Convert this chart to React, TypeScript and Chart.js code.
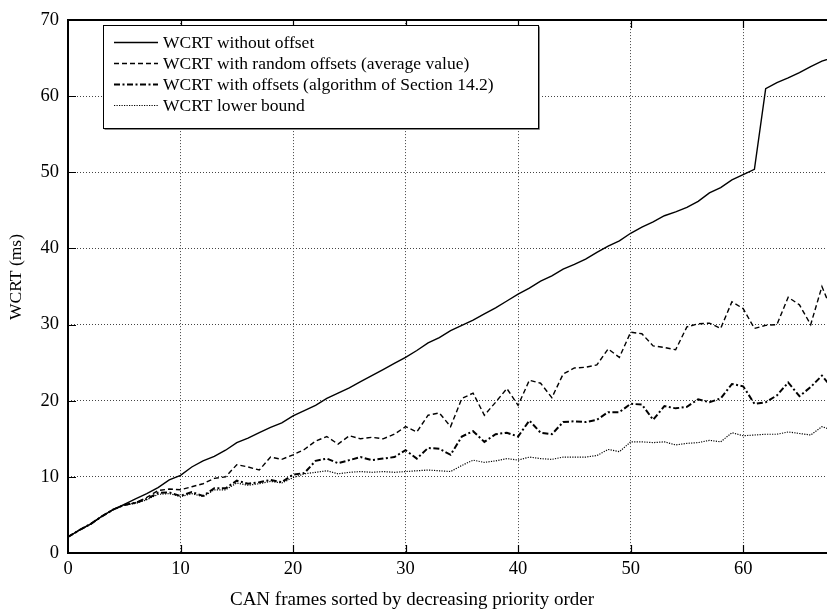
import React, { useEffect, useRef } from 'react';
import { Chart, registerables } from 'chart.js';

Chart.register(...registerables);

const frames = Array.from({ length: 69 }, (_, i) => i);

const withoutOffset = [
  2.1, 3.0, 3.8, 4.8, 5.7, 6.4, 7.1, 7.8, 8.6, 9.6,
  10.2, 11.3, 12.1, 12.7, 13.5, 14.5, 15.1, 15.8, 16.5, 17.1,
  18.0, 18.7, 19.4, 20.3, 21.0, 21.7, 22.5, 23.3, 24.1, 24.9,
  25.7, 26.6, 27.6, 28.3, 29.2, 29.9, 30.6, 31.4, 32.2, 33.1,
  34.0, 34.8, 35.7, 36.4, 37.3, 37.9, 38.6, 39.5, 40.3, 41.0,
  42.0, 42.8, 43.5, 44.3, 44.8, 45.4, 46.2, 47.3, 48.0, 49.0,
  49.7, 50.4, 61.0, 61.8, 62.4, 63.1, 63.9, 64.6, 65.1,
];

const randomOffsets = [
  2.1, 3.0, 3.8, 4.8, 5.7, 6.3, 6.6, 7.3, 8.2, 8.4,
  8.3, 8.7, 9.1, 9.8, 10.0, 11.6, 11.3, 10.9, 12.6, 12.3,
  12.9, 13.6, 14.7, 15.3, 14.3, 15.4, 15.0, 15.2, 15.0, 15.6,
  16.6, 15.9, 18.1, 18.4, 16.6, 20.3, 21.0, 18.1, 19.8, 21.6,
  19.4, 22.7, 22.3, 20.4, 23.5, 24.3, 24.4, 24.7, 26.8, 25.7,
  29.0, 28.8, 27.2, 27.0, 26.7, 29.7, 30.1, 30.2, 29.5, 33.0,
  32.1, 29.5, 29.9, 30.0, 33.6, 32.6, 30.0, 35.0, 31.4,
];

const algorithmOffsets = [
  2.1, 3.0, 3.8, 4.8, 5.7, 6.3, 6.6, 7.1, 7.9, 7.95,
  7.5, 8.0, 7.5, 8.5, 8.5, 9.5, 9.1, 9.3, 9.6, 9.3,
  10.3, 10.5, 12.1, 12.4, 11.8, 12.2, 12.6, 12.2, 12.4, 12.6,
  13.5, 12.4, 13.8, 13.7, 12.9, 15.3, 16.0, 14.6, 15.6, 15.8,
  15.3, 17.4, 15.8, 15.6, 17.2, 17.3, 17.2, 17.5, 18.5, 18.5,
  19.6, 19.5, 17.5, 19.3, 19.0, 19.2, 20.2, 19.8, 20.3, 22.2,
  21.9, 19.6, 19.8, 20.7, 22.4, 20.6, 21.8, 23.3, 21.5,
];

const lowerBound = [
  2.1, 3.0, 3.8, 4.8, 5.7, 6.3, 6.5, 7.0, 7.7, 7.8,
  7.4, 7.8, 7.4, 8.3, 8.3, 9.2, 8.9, 9.1, 9.4, 9.2,
  9.9, 10.4, 10.6, 10.8, 10.4, 10.6, 10.7, 10.6, 10.7, 10.6,
  10.7, 10.8, 10.9, 10.8, 10.7, 11.5, 12.2, 11.9, 12.1, 12.4,
  12.2, 12.6, 12.4, 12.3, 12.6, 12.6, 12.6, 12.8, 13.6, 13.3,
  14.6, 14.6, 14.5, 14.6, 14.2, 14.4, 14.5, 14.8, 14.6, 15.8,
  15.4, 15.5, 15.6, 15.6, 15.9, 15.7, 15.5, 16.6, 16.1,
];

const seriesLabels = [
  'WCRT without offset',
  'WCRT with random offsets (average value)',
  'WCRT with offsets (algorithm of Section 14.2)',
  'WCRT lower bound',
];

const xTickValues = [0, 10, 20, 30, 40, 50, 60];
const yTickValues = [0, 10, 20, 30, 40, 50, 60, 70];
const xAxisTitle = 'CAN frames sorted by decreasing priority order';
const yAxisTitle = 'WCRT (ms)';

const FONT = '"Liberation Serif", "DejaVu Serif", serif';

const styles = [
  { dash: [] as number[], width: 1.4 },
  { dash: [5, 3], width: 1.4 },
  { dash: [6, 2.5, 2, 2.5], width: 2 },
  { dash: [1.2, 1.3], width: 1.2 },
];

const toPoints = (vals: number[]) => frames.map((f, i) => ({ x: f, y: vals[i] }));

const decorPlugin = {
  id: 'decor',
  afterDraw(chart: any) {
    const { ctx, chartArea: a, scales } = chart;
    const xs = scales.x;
    const ys = scales.y;
    ctx.save();
    // inward ticks
    ctx.strokeStyle = '#000';
    ctx.lineWidth = 1.2;
    ctx.setLineDash([]);
    ctx.beginPath();
    xTickValues.forEach((v) => {
      if (v === 0) return;
      const px = Math.round(xs.getPixelForValue(v)) + 0.5;
      ctx.moveTo(px, a.bottom);
      ctx.lineTo(px, a.bottom - 8);
      ctx.moveTo(px, a.top);
      ctx.lineTo(px, a.top + 8);
    });
    yTickValues.forEach((v) => {
      if (v === 0 || v === 70) return;
      const py = Math.round(ys.getPixelForValue(v)) + 0.5;
      ctx.moveTo(a.left, py);
      ctx.lineTo(a.left + 8, py);
    });
    ctx.stroke();
    // frame
    ctx.lineWidth = 2;
    ctx.beginPath();
    ctx.moveTo(a.right, a.top);
    ctx.lineTo(a.left, a.top);
    ctx.lineTo(a.left, a.bottom);
    ctx.lineTo(a.right, a.bottom);
    ctx.stroke();

    // legend
    const bx = 103, by = 25, bw = 435, bh = 103;
    ctx.fillStyle = '#fff';
    ctx.fillRect(bx, by, bw, bh);
    ctx.strokeStyle = '#888';
    ctx.lineWidth = 1;
    ctx.beginPath();
    ctx.moveTo(bx + 1.5, by + bh + 1.5);
    ctx.lineTo(bx + bw + 1.5, by + bh + 1.5);
    ctx.lineTo(bx + bw + 1.5, by + 1.5);
    ctx.stroke();
    ctx.strokeStyle = '#000';
    ctx.strokeRect(bx + 0.5, by + 0.5, bw, bh);
    ctx.font = '17.5px ' + FONT;
    ctx.fillStyle = '#000';
    ctx.textBaseline = 'middle';
    ctx.textAlign = 'left';
    seriesLabels.forEach((lab, i) => {
      const cy = 42 + i * 21;
      ctx.lineWidth = styles[i].width;
      ctx.setLineDash(styles[i].dash);
      ctx.beginPath();
      ctx.moveTo(114, cy + 0.5);
      ctx.lineTo(158, cy + 0.5);
      ctx.stroke();
      ctx.setLineDash([]);
      ctx.fillText(lab, 163, cy + 1);
    });

    // axis titles
    ctx.font = '19px ' + FONT;
    ctx.textAlign = 'center';
    ctx.textBaseline = 'middle';
    ctx.fillText(xAxisTitle, 412, 600);
    ctx.font = '17.5px ' + FONT;
    ctx.translate(16, 277);
    ctx.rotate(-Math.PI / 2);
    ctx.fillText(yAxisTitle, 0, 0);
    ctx.restore();
  },
};

export default function App() {
  const ref = useRef<HTMLCanvasElement>(null);
  useEffect(() => {
    document.body.style.margin = '0';
    const canvas = ref.current;
    if (!canvas) return;
    const datasets = [withoutOffset, randomOffsets, algorithmOffsets, lowerBound].map((vals, i) => ({
      label: seriesLabels[i],
      data: toPoints(vals),
      borderColor: '#000',
      backgroundColor: '#000',
      borderWidth: styles[i].width,
      borderDash: styles[i].dash,
      pointRadius: 0,
      tension: 0,
      fill: false,
    }));
    const chart = new Chart(canvas, {
      type: 'line',
      data: { datasets },
      plugins: [decorPlugin],
      options: {
        animation: false,
        responsive: false,
        maintainAspectRatio: false,
        devicePixelRatio: 1,
        layout: { padding: { left: 0, top: 17, right: 0, bottom: 0 } },
        plugins: { legend: { display: false }, tooltip: { enabled: false } },
        scales: {
          x: {
            type: 'linear',
            min: 0,
            max: 67.45,
            afterBuildTicks: (s: any) => {
              s.ticks = xTickValues.map((v) => ({ value: v }));
            },
            afterFit: (s: any) => {
              s.height = 60;
            },
            grid: { color: '#444', lineWidth: 1, drawTicks: false },
            border: { display: false, dash: [1, 2] },
            ticks: {
              color: '#000',
              font: { family: FONT, size: 18.5 },
              padding: 5,
              autoSkip: false,
              maxRotation: 0,
            },
          },
          y: {
            type: 'linear',
            min: 0,
            max: 70,
            afterBuildTicks: (s: any) => {
              s.ticks = yTickValues.map((v) => ({ value: v }));
            },
            afterFit: (s: any) => {
              s.width = 68;
            },
            grid: { color: '#444', lineWidth: 1, drawTicks: false },
            border: { display: false, dash: [1, 2] },
            ticks: {
              color: '#000',
              font: { family: FONT, size: 18.5 },
              padding: 9,
              autoSkip: false,
            },
          },
        },
      },
    } as any);
    return () => chart.destroy();
  }, []);
  return (
    <canvas
      ref={ref}
      width={827}
      height={613}
      style={{ display: 'block', width: 827, height: 613 }}
    />
  );
}
